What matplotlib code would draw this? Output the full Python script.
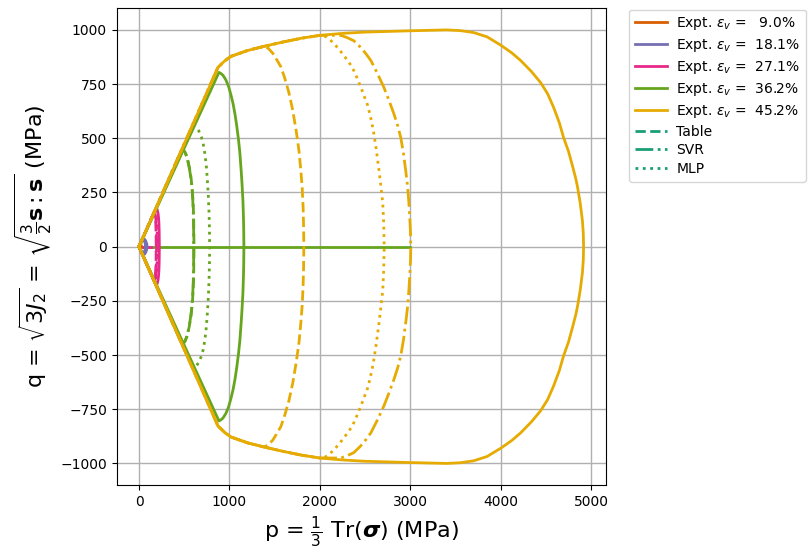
import matplotlib
matplotlib.use("Agg")
import matplotlib.pyplot as plt
from matplotlib.lines import Line2D
import numpy as np

# Volumetric strains of the experiments (%)
strains = [9.0, 18.1, 27.1, 36.2, 45.2]
colors = ["#d95f02", "#7570b3", "#e7298a", "#66a61e", "#e6ab02"]
model_color = "#1b9e77"

# Upper halves of the yield surfaces (p, q) in MPa.
# Lower halves are the mirror image (q -> -q).
yellow_top_p = [0, 873, 950, 1017, 1200, 1381, 1600, 1800, 2000, 2250, 2500, 3000, 3400]
yellow_top_q = [0, 827, 858, 878, 905, 924, 945, 962, 975, 984, 990, 996, 1000]

expt_p = [
    [0, 15, 20, 23, 25],
    [0, 40, 52, 62, 72, 80, 86, 90],
    [0, 188, 196, 203, 210, 216, 220, 223, 225],
    [0, 884, 906, 930, 960, 990, 1017, 1040, 1060, 1080, 1100, 1115, 1130, 1140,
     1149, 1155, 1158, 1160],
    yellow_top_p + [3550, 3700, 3850, 4000, 4120, 4221, 4340, 4442, 4520, 4586,
                    4650, 4696, 4750, 4790, 4830, 4851, 4880, 4904, 4914, 4917],
]
expt_q = [
    [0, 14, 11, 7, 0],
    [0, 38, 37, 34, 28, 20, 12, 0],
    [0, 178, 175, 168, 155, 135, 110, 70, 0],
    [0, 804, 799, 790, 770, 740, 700, 660, 615, 560, 495, 435, 350, 285,
     215, 140, 80, 0],
    yellow_top_q + [997, 988, 968, 930, 895, 859, 808, 757, 705, 642,
                    570, 503, 440, 379, 315, 273, 200, 120, 60, 0],
]

table_p = [
    [0, 12, 16, 19, 20],
    [0, 35, 45, 55, 63, 68, 72],
    [0, 160, 168, 174, 180, 185, 188, 190],
    [0, 455, 480, 505, 530, 555, 575, 590, 600, 605, 608],
    yellow_top_p[:6] + [1430, 1480, 1520, 1569, 1610, 1657, 1700, 1740, 1770, 1790,
                        1805, 1815, 1820, 1823],
]
table_q = [
    [0, 11, 9, 6, 0],
    [0, 33, 32, 27, 20, 12, 0],
    [0, 152, 151, 146, 132, 110, 80, 0],
    [0, 431, 445, 440, 415, 370, 320, 260, 190, 120, 0],
    yellow_top_q[:6] + [915, 892, 865, 830, 780, 712, 630, 530, 440, 350,
                        270, 180, 100, 0],
]

svr_p = [
    [0, 12, 17, 20, 21],
    [0, 36, 47, 57, 65, 70, 74],
    [0, 165, 173, 180, 186, 190, 193, 194],
    [0, 460, 485, 510, 535, 560, 580, 593, 600, 604, 605],
    yellow_top_p[:9] + [2232, 2300, 2376, 2450, 2510, 2564, 2630, 2707, 2760, 2818,
                        2860, 2895, 2925, 2950, 2970, 2983, 2995, 3003, 3006],
]
svr_q = [
    [0, 11, 9, 6, 0],
    [0, 34, 33, 28, 20, 12, 0],
    [0, 156, 154, 145, 128, 105, 70, 0],
    [0, 436, 445, 435, 405, 355, 295, 230, 160, 80, 0],
    yellow_top_q[:9] + [975, 965, 950, 920, 890, 859, 805, 736, 680, 614,
                        560, 503, 430, 350, 280, 212, 130, 60, 0],
]

mlp_p = [
    [0, 13, 17, 20, 22],
    [0, 38, 50, 60, 68, 74, 78],
    [0, 170, 180, 188, 194, 198, 201, 202],
    [0, 580, 605, 630, 660, 690, 710, 730, 745, 757, 767, 775, 779, 781],
    yellow_top_p[:9] + [2040, 2100, 2155, 2210, 2265, 2320, 2365, 2410, 2453, 2490,
                        2530, 2560, 2590, 2620, 2652, 2675, 2696, 2706, 2712],
]
mlp_q = [
    [0, 12, 10, 7, 0],
    [0, 36, 34, 29, 21, 12, 0],
    [0, 161, 158, 148, 130, 105, 65, 0],
    [0, 549, 560, 552, 535, 505, 475, 425, 370, 300, 230, 150, 80, 0],
    yellow_top_q[:9] + [975, 960, 937, 912, 882, 852, 822, 780, 736, 695,
                        651, 600, 540, 460, 360, 280, 200, 110, 0],
]

# segments along the p axis
axis_green_p = [0, 3000]
axis_pink_p = [0, 130]


def closed(p, q):
    p = np.asarray(p, dtype=float)
    q = np.asarray(q, dtype=float)
    return np.concatenate([p, p[::-1]]), np.concatenate([q, -q[::-1]])


fig = plt.figure(figsize=(8.11, 5.5), dpi=100)
ax = fig.add_axes([0.144, 0.118, 0.603, 0.867])

lw = 2
ax.plot(axis_green_p, [0, 0], color=colors[3], lw=lw)
ax.plot(axis_pink_p, [0, 0], color=colors[2], lw=lw)

for i in range(len(strains)):
    c = colors[i]
    for P, Q, ls in [(table_p, table_q, "--"), (svr_p, svr_q, "-."), (mlp_p, mlp_q, ":")]:
        x, y = closed(P[i], Q[i])
        ax.plot(x, y, color=c, ls=ls, lw=lw)
    x, y = closed(expt_p[i], expt_q[i])
    ax.plot(x, y, color=c, ls="-", lw=lw)

ax.grid(True, color="#b0b0b0", lw=1)
ax.set_axisbelow(True)
ax.set_yticks([-1000, -750, -500, -250, 0, 250, 500, 750, 1000])
ax.set_xticks([0, 1000, 2000, 3000, 4000, 5000])
ax.set_xlabel(r"p = $\frac{1}{3}$ Tr($\boldsymbol{\sigma}$) (MPa)", fontsize=16)
ax.set_ylabel(r"q = $\sqrt{3J_2}$ = $\sqrt{\frac{3}{2}\mathbf{s}:\mathbf{s}}$ (MPa)", fontsize=16)

handles = [Line2D([], [], color=c, lw=lw) for c in colors]
labels = [r"Expt. $\varepsilon_v$ = " + "{:5.1f}%".format(s) for s in strains]
handles += [Line2D([], [], color=model_color, lw=lw, ls=ls) for ls in ["--", "-.", ":"]]
labels += ["Table", "SVR", "MLP"]
ax.legend(handles, labels, loc="upper left", bbox_to_anchor=(1.045, 1.0),
          borderaxespad=0.1, fontsize=10, labelspacing=0.35, handlelength=2.3,
          handletextpad=0.7)

fig.savefig("out.png", dpi=100)
